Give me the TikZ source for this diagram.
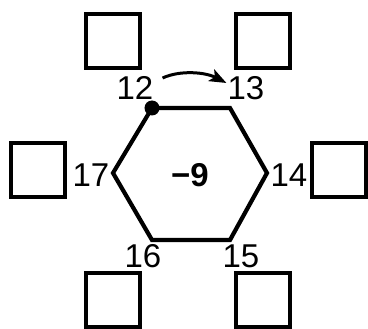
\documentclass[tikz,border=0pt]{standalone}
\usepackage{fontspec}
\setmainfont{Liberation Sans}
\usetikzlibrary{arrows.meta}
\begin{document}
\begin{tikzpicture}[x=1pt,y=-1pt,
  box/.style={draw,line width=3.2pt,minimum size=54pt,inner sep=0pt},
  lab/.style={font=\fontsize{33}{33}\selectfont,inner sep=0pt,text depth=0pt},
  hexline/.style={line width=4.2pt,line join=miter}]
\useasboundingbox (0,0) rectangle (368,329);
% hexagon corners
\coordinate (h1) at (152,108);
\coordinate (h2) at (230,108);
\coordinate (h3) at (267,173);
\coordinate (h4) at (230,240);
\coordinate (h5) at (152,240);
\coordinate (h6) at (113,173);
\draw[hexline] (h1) -- (h2) -- (h3) -- (h4) -- (h5) -- (h6) -- cycle;
\fill (h1) circle (7.5pt);
% center value
\node[lab,font=\fontsize{33}{33}\selectfont\bfseries] (c) at (190,175) {−9};
% labels
\node[lab] (l12) at (135,88) {12};
\node[lab] (l13) at (246,88) {13};
\node[lab] (l14) at (289,175) {14};
\node[lab] (l15) at (241,256) {15};
\node[lab] (l16) at (143,256) {16};
\node[lab] (l17) at (91,175) {17};
% boxes
\node[box] (b12) at (113,41) {};
\node[box] (b13) at (263,41) {};
\node[box] (b14) at (339,170) {};
\node[box] (b15) at (263,300) {};
\node[box] (b16) at (113,300) {};
\node[box] (b17) at (38,170) {};
% arrow
\draw[line width=3pt,-{Stealth[length=17pt,width=13pt,inset=4pt]}] ([shift={(9,-10)}]l12.east) .. controls (180,70) and (205,72) .. ([shift={(-1,-5)}]l13.west);
\end{tikzpicture}
\end{document}
